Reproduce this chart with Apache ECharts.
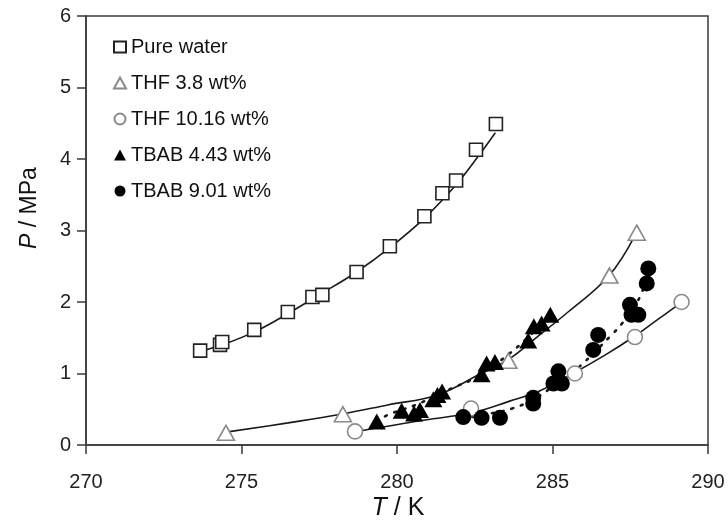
<!DOCTYPE html>
<html>
<head>
<meta charset="utf-8">
<script src="https://cdn.jsdelivr.net/npm/echarts@6/dist/echarts.min.js"></script>
<style>html,body{margin:0;padding:0;background:#fff}#c{width:728px;height:525px}</style>
</head>
<body>
<div id="c"></div>
<script>
// ---- data (T / K, P / MPa) ----
var pureWater = [[273.67,1.32],[274.31,1.40],[274.38,1.44],[275.41,1.61],[276.49,1.86],[277.28,2.07],[277.60,2.10],[278.70,2.42],[279.77,2.78],[280.88,3.20],[281.46,3.52],[281.90,3.70],[282.54,4.13],[283.18,4.49]];
var thf38 = [[274.50,0.17],[278.26,0.43],[283.58,1.18],[286.83,2.37],[287.71,2.97]];
var thf1016 = [[278.65,0.19],[282.38,0.51],[285.72,1.00],[287.65,1.51],[289.15,2.00]];
var tbab443 = [[279.35,0.33],[280.15,0.48],[280.55,0.44],[280.74,0.49],[281.17,0.64],[281.30,0.70],[281.45,0.75],[282.72,0.99],[282.88,1.14],[283.15,1.16],[284.22,1.46],[284.40,1.66],[284.65,1.70],[284.93,1.82]];
var tbab901 = [[282.13,0.39],[282.72,0.38],[283.31,0.38],[284.38,0.66],[284.38,0.58],[285.03,0.86],[285.19,1.03],[285.30,0.86],[286.31,1.33],[286.47,1.54],[287.49,1.96],[287.54,1.82],[287.76,1.82],[288.03,2.26],[288.08,2.47]];

// fitted curves
var curvePure = [[273.60,1.30],[274.50,1.42],[275.50,1.60],[276.50,1.84],[277.50,2.10],[278.70,2.42],[279.80,2.77],[280.90,3.18],[281.90,3.64],[282.60,4.03],[283.15,4.36]];
var curveThf38 = [[274.50,0.18],[276.50,0.31],[278.20,0.43],[279.70,0.56],[281.30,0.70],[282.70,1.00],[283.60,1.20],[284.50,1.51],[285.50,1.86],[286.80,2.36],[287.65,2.93]];
var curveThf1016 = [[278.70,0.19],[279.80,0.27],[280.90,0.35],[282.40,0.45],[283.60,0.61],[284.60,0.76],[285.70,1.01],[286.70,1.26],[287.60,1.51],[288.40,1.76],[289.10,1.98]];
var curveTbab443 = [[279.35,0.32],[279.70,0.42],[280.60,0.56],[281.30,0.70],[281.90,0.82],[282.30,0.89],[283.00,1.08],[283.65,1.29],[284.20,1.50],[284.90,1.80]];
var curveTbab901 = [[282.10,0.37],[283.00,0.44],[283.70,0.51],[284.40,0.64],[285.20,0.88],[285.90,1.11],[286.90,1.54],[287.20,1.68],[287.75,2.02],[288.05,2.35]];

var xTicks = [270,275,280,285,290];
var yTicks = [0,1,2,3,4,5,6];
var seriesNames = ['Pure water','THF 3.8 wt%','THF 10.16 wt%','TBAB 4.43 wt%','TBAB 9.01 wt%'];

var chart = echarts.init(document.getElementById('c'), null, {renderer:'canvas'});
var axisCol = '#3a3a3a';
var font = 'Liberation Sans, Arial, sans-serif';

function curve(data, dashed){
  return {type:'line', data:data, smooth:0.4, showSymbol:false, silent:true, z:1,
    lineStyle:{color:'#1a1a1a', width:dashed?2.6:1.6, type:dashed?[2,8]:'solid', cap:'round'}};
}

chart.setOption({
  animation:false,
  backgroundColor:'#fff',
  grid:{left:86, right:20, top:16, bottom:80, show:true, borderColor:axisCol, borderWidth:1.5},
  xAxis:{type:'value', min:xTicks[0], max:xTicks[xTicks.length-1], interval:5,
    axisLine:{onZero:false, lineStyle:{color:axisCol, width:1.5}},
    axisTick:{show:true, inside:false, length:9, lineStyle:{color:axisCol, width:1.5}},
    axisLabel:{margin:27, fontSize:20, color:'#222', fontFamily:font},
    splitLine:{show:false}},
  yAxis:{type:'value', min:yTicks[0], max:yTicks[yTicks.length-1], interval:1,
    axisLine:{onZero:false, lineStyle:{color:axisCol, width:1.5}},
    axisTick:{show:true, inside:false, length:9, lineStyle:{color:axisCol, width:1.5}},
    axisLabel:{margin:15, fontSize:20, color:'#222', fontFamily:font},
    splitLine:{show:false}},
  legend:{data:seriesNames, orient:'vertical', left:108, top:32, itemWidth:12, itemHeight:11, itemGap:16,
    textStyle:{fontSize:20, color:'#111', fontFamily:font, lineHeight:20}},
  graphic:[
    {type:'text', x:398, y:508, style:{text:'{i|T} / K', rich:{i:{fontStyle:'italic', fontSize:25, fontFamily:font, fill:'#111'}}, fontSize:25, fontFamily:font, fill:'#111', align:'center', verticalAlign:'middle'}},
    {type:'text', x:30, y:208, rotation:Math.PI/2, style:{text:'{i|P} / MPa', rich:{i:{fontStyle:'italic', fontSize:23, fontFamily:font, fill:'#111'}}, fontSize:23, fontFamily:font, fill:'#111', align:'center', verticalAlign:'middle'}}
  ],
  series:[
    curve(curvePure,false), curve(curveThf38,false), curve(curveThf1016,false),
    curve(curveTbab443,true), curve(curveTbab901,true),
    {name:seriesNames[0], type:'scatter', data:pureWater, symbol:'rect', symbolSize:13, z:3,
      itemStyle:{color:'#fff', borderColor:'#222', borderWidth:1.6, opacity:1}},
    {name:seriesNames[1], type:'scatter', data:thf38, symbol:'triangle', symbolSize:[17,15], z:3,
      itemStyle:{color:'#fff', borderColor:'#8a8a8a', borderWidth:1.6, opacity:1}},
    {name:seriesNames[2], type:'scatter', data:thf1016, symbol:'circle', symbolSize:15, z:3,
      itemStyle:{color:'#fff', borderColor:'#8a8a8a', borderWidth:1.6, opacity:1}},
    {name:seriesNames[3], type:'scatter', data:tbab443, symbol:'triangle', symbolSize:[18,16], z:4,
      itemStyle:{color:'#000', opacity:1}},
    {name:seriesNames[4], type:'scatter', data:tbab901, symbol:'circle', symbolSize:16, z:4,
      itemStyle:{color:'#000', opacity:1}}
  ]
});
</script>
</body>
</html>
